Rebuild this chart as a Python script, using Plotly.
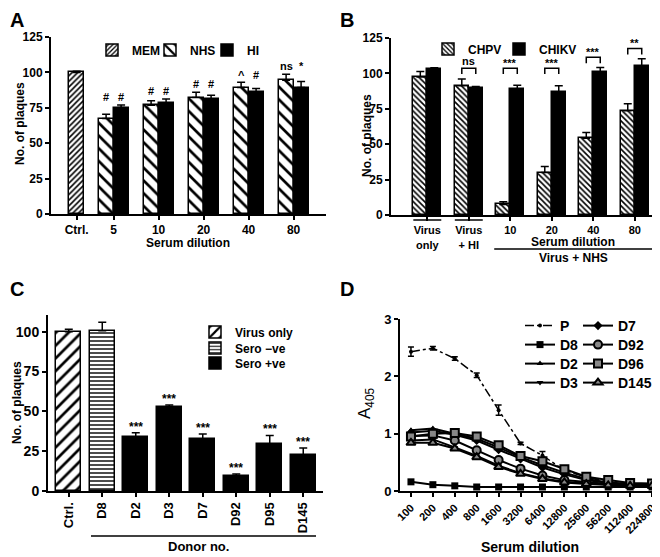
import plotly.graph_objects as go

# ---------------- data ----------------
# Panel A
a_categories = ["Ctrl.", "5", "10", "20", "40", "80"]
a_mem = [100.0]
a_mem_err = [0.8]
a_nhs = [67.4, 76.8, 82.2, 89.3, 94.5]
a_nhs_err = [3.1, 3.1, 3.8, 3.7, 4.2]
a_hi = [75.2, 78.5, 81.3, 86.0, 89.3]
a_hi_err = [1.8, 2.8, 2.6, 2.6, 4.2]
a_marks_nhs = ["#", "#", "#", "^", "ns"]
a_marks_hi = ["#", "#", "#", "#", "*"]

# Panel B
b_categories = ["Virus<br>only", "Virus<br>+ HI", "10", "20", "40", "80"]
b_chpv = [97.4, 91.3, 7.5, 30.0, 54.2, 73.6]
b_chpv_err = [4.0, 4.7, 1.9, 4.2, 4.1, 4.9]
b_chikv = [103.0, 89.6, 88.9, 87.0, 101.2, 105.4]
b_chikv_err = [1.0, 1.2, 2.8, 4.3, 3.0, 5.0]
b_sig = ["", "ns", "***", "***", "***", "**"]

# Panel C
c_categories = ["Ctrl.", "D8", "D2", "D3", "D7", "D92", "D95", "D145"]
c_values = [100.0, 100.6, 34.1, 52.9, 32.4, 9.4, 29.7, 22.8]
c_err = [1.5, 5.3, 2.5, 1.1, 3.4, 1.3, 5.2, 4.2]
c_groups = ["Virus only", "Sero −ve", "Sero +ve", "Sero +ve",
            "Sero +ve", "Sero +ve", "Sero +ve", "Sero +ve"]
c_sig = ["", "", "***", "***", "***", "***", "***", "***"]

# Panel D
d_dilutions = ["100", "200", "400", "800", "1600", "3200", "6400",
               "12800", "25600", "56200", "112400", "224800"]
d_P = [2.43, 2.49, 2.31, 2.02, 1.41, 0.83, 0.62, 0.36, 0.24, 0.16, 0.12, 0.10]
d_P_err = [0.08, 0.03, 0.03, 0.04, 0.09, 0.02, 0.07, 0.03, 0.02, 0.02, 0.01, 0.01]
d_D8 = [0.16, 0.11, 0.09, 0.07, 0.07, 0.07, 0.07, 0.07, 0.07, 0.07, 0.07, 0.07]
d_D2 = [1.06, 1.09, 1.00, 0.91, 0.76, 0.59, 0.45, 0.32, 0.21, 0.15, 0.12, 0.11]
d_D3 = [0.88, 0.90, 0.76, 0.61, 0.44, 0.31, 0.22, 0.16, 0.13, 0.11, 0.10, 0.09]
d_D7 = [1.02, 1.05, 0.98, 0.88, 0.72, 0.56, 0.41, 0.29, 0.19, 0.14, 0.12, 0.10]
d_D92 = [0.96, 0.97, 0.88, 0.71, 0.54, 0.39, 0.27, 0.19, 0.15, 0.12, 0.10, 0.10]
d_D96 = [0.95, 1.00, 1.01, 0.95, 0.80, 0.61, 0.52, 0.38, 0.25, 0.19, 0.14, 0.13]
d_D145 = [0.84, 0.84, 0.74, 0.59, 0.42, 0.30, 0.21, 0.15, 0.12, 0.10, 0.09, 0.09]

# ---------------- helpers ----------------
# the page places the figure 8 px lower than the window top
OFFY = 8
W, H = 660, 557 - OFFY
FONT = "Liberation Sans, Arial, sans-serif"


def px(x):
    return x / W


def py(y):
    return 1 - (y - OFFY) / H


def font(size, weight="bold"):
    return dict(family=FONT, size=size, color="black", weight=weight)


def axis_style(tsize=11, **kw):
    d = dict(showline=True, linecolor="black", linewidth=2, ticks="outside",
             ticklen=4, tickwidth=1.5, tickcolor="black", showgrid=False,
             zeroline=False, tickfont=font(tsize), fixedrange=True, automargin=False)
    d.update(kw)
    return d


def err(arr):
    return dict(type="data", array=arr, arrayminus=[0] * len(arr), symmetric=False,
                color="black", thickness=1.5, width=4, visible=True)


def note(x, y, text, size=12, weight="bold", **kw):
    d = dict(x=px(x), y=py(y), xref="paper", yref="paper", text=text, showarrow=False,
             xanchor="center", yanchor="middle", font=font(size, weight))
    d.update(kw)
    return d


OUT = dict(color="black", width=1.5)
fig = go.Figure()
annotations = []
shapes = []

# ---------------- Panel A ----------------
a_ctrl_x = [0.0]
a_grp_x = [0.82 + i for i in range(len(a_nhs))]
bw_a = 0.333
fig.add_bar(x=a_ctrl_x, y=a_mem, width=bw_a, error_y=err(a_mem_err), name="MEM",
            marker=dict(color="white", line=OUT,
                        pattern=dict(shape="/", size=4, solidity=0.4, fgcolor="black", bgcolor="white")),
            xaxis="x", yaxis="y", legend="legend", showlegend=True)
fig.add_bar(x=[g - bw_a / 2 for g in a_grp_x], y=a_nhs, width=bw_a, error_y=err(a_nhs_err), name="NHS",
            marker=dict(color="white", line=OUT,
                        pattern=dict(shape="\\", size=9, solidity=0.3, fgcolor="black", bgcolor="white")),
            xaxis="x", yaxis="y", legend="legend2", showlegend=True)
fig.add_bar(x=[g + bw_a / 2 for g in a_grp_x], y=a_hi, width=bw_a, error_y=err(a_hi_err), name="HI",
            marker=dict(color="black", line=OUT), xaxis="x", yaxis="y", legend="legend3", showlegend=True)
for i, g in enumerate(a_grp_x):
    top = max(a_nhs[i] + a_nhs_err[i], a_hi[i] + a_hi_err[i])
    for dx, m in ((-bw_a / 2, a_marks_nhs[i]), (bw_a / 2, a_marks_hi[i])):
        annotations.append(dict(x=g + dx, y=top + 5.5, xref="x", yref="y", text=m, showarrow=False,
                                xanchor="center", yanchor="middle", font=font(11)))

# ---------------- Panel B ----------------
b_x = list(range(len(b_chpv)))
bw_b = 0.337
fig.add_bar(x=[g - bw_b / 2 for g in b_x], y=b_chpv, width=bw_b, error_y=err(b_chpv_err), name="CHPV",
            marker=dict(color="white", line=OUT,
                        pattern=dict(shape="\\", size=4, solidity=0.4, fgcolor="black", bgcolor="white")),
            xaxis="x2", yaxis="y2", legend="legend4", showlegend=True)
fig.add_bar(x=[g + bw_b / 2 for g in b_x], y=b_chikv, width=bw_b, error_y=err(b_chikv_err), name="CHIKV",
            marker=dict(color="black", line=OUT), xaxis="x2", yaxis="y2", legend="legend5", showlegend=True)
for i, g in enumerate(b_x):
    if not b_sig[i]:
        continue
    top = max(b_chpv[i] + b_chpv_err[i], b_chikv[i] + b_chikv_err[i])
    leg = max(top + 3, 99.5)
    btop = leg + 4.2
    x0, x1 = g - bw_b / 2, g + bw_b / 2
    shapes.append(dict(type="path", xref="x2", yref="y2",
                       path=f"M{x0},{leg} L{x0},{btop} L{x1},{btop} L{x1},{leg}",
                       line=dict(color="black", width=1.5)))
    annotations.append(dict(x=g, y=btop, xref="x2", yref="y2", text=b_sig[i], showarrow=False,
                            xanchor="center", yanchor="bottom",
                            yshift=-3 if "*" in b_sig[i] else -1, font=font(11)))
# group lines under B axis
for i in (0, 1):
    shapes.append(dict(type="line", xref="x2", yref="paper", x0=i - bw_b, x1=i + bw_b,
                       y0=py(220), y1=py(220), line=dict(color="black", width=1.5)))
shapes.append(dict(type="line", xref="x2", yref="paper", x0=2 - bw_b - 0.05, x1=5 + bw_b + 0.2,
                   y0=py(249), y1=py(249), line=dict(color="black", width=1.5)))
annotations.append(note(565, 242, "Serum dilution", 12))
annotations.append(note(565, 258, "Virus + NHS", 12))

# ---------------- Panel C ----------------
c_x = list(range(len(c_values)))
bw_c = 0.75
c_styles = {
    "Virus only": dict(color="white", line=OUT,
                       pattern=dict(shape="/", size=9, solidity=0.3, fgcolor="black", bgcolor="white")),
    "Sero −ve": dict(color="white", line=OUT,
                     pattern=dict(shape="-", size=4, solidity=0.35, fgcolor="black", bgcolor="white")),
    "Sero +ve": dict(color="black", line=OUT),
}
for k, gname in enumerate(["Virus only", "Sero −ve", "Sero +ve"]):
    idx = [i for i, g in enumerate(c_groups) if g == gname]
    fig.add_bar(x=[c_x[i] for i in idx], y=[c_values[i] for i in idx], width=bw_c,
                error_y=err([c_err[i] for i in idx]), name=gname, marker=c_styles[gname],
                xaxis="x3", yaxis="y3", legend=f"legend{6 + k}", showlegend=True)
for i in c_x:
    if c_sig[i]:
        annotations.append(dict(x=i, y=c_values[i] + c_err[i], xref="x3", yref="y3", text=c_sig[i],
                                showarrow=False, xanchor="center", yanchor="bottom", yshift=-3,
                                font=font(12)))
shapes.append(dict(type="line", xref="paper", yref="paper", x0=px(83), x1=px(308),
                   y0=py(536), y1=py(536), line=dict(color="black", width=1.5)))
annotations.append(note(191, 546, "Donor no.", 13))

# ---------------- Panel D ----------------
d_series = [
    ("P", d_P, dict(symbol="circle", size=4, color="black"), "dashdot"),
    ("D8", d_D8, dict(symbol="square", size=7, color="black"), "solid"),
    ("D2", d_D2, dict(symbol="triangle-up", size=6, color="black"), "solid"),
    ("D3", d_D3, dict(symbol="triangle-down", size=6, color="black"), "solid"),
    ("D7", d_D7, dict(symbol="diamond", size=7, color="black"), "solid"),
    ("D92", d_D92, dict(symbol="circle", size=8, color="#888888", line=dict(color="black", width=2)), "solid"),
    ("D96", d_D96, dict(symbol="square", size=8, color="#888888", line=dict(color="black", width=2)), "solid"),
    ("D145", d_D145, dict(symbol="triangle-up", size=8, color="#888888", line=dict(color="black", width=2)), "solid"),
]
for k, (name, vals, mk, dash) in enumerate(d_series):
    kw = {}
    if name == "P":
        kw["error_y"] = dict(type="data", array=d_P_err, color="black", thickness=1.5, width=3)
    fig.add_scatter(x=d_dilutions, y=vals, mode="lines+markers", name=name,
                    line=dict(color="black", width=2 if name != "P" else 1.5, dash=dash),
                    marker=mk, xaxis="x4", yaxis="y4", legend=f"legend{9 + k}", showlegend=True, **kw)

# ---------------- legends ----------------
legend_defs = {}


def add_legend(key, x, y, size=12):
    legend_defs[key] = dict(x=px(x), y=py(y), xanchor="left", yanchor="middle",
                            bgcolor="rgba(0,0,0,0)", borderwidth=0, font=font(size),
                            itemclick=False, itemdoubleclick=False, visible=True)


# A: swatches near 100, 158, 213 (y 51)
add_legend("legend", 100 - 16, 50)
add_legend("legend2", 158 - 16, 50)
add_legend("legend3", 215 - 16, 50)
# B
add_legend("legend4", 436 - 16, 49)
add_legend("legend5", 507 - 16, 49)
# C
for k, yy in enumerate((332, 348, 363)):
    add_legend(f"legend{6 + k}", 203 - 16, yy)
# D
rows = (326, 345, 364, 383)
for k in range(4):
    add_legend(f"legend{9 + k}", 512, rows[k], 14)
    add_legend(f"legend{13 + k}", 570, rows[k], 14)

# ---------------- titles / panel letters ----------------
annotations.append(note(9, OFFY, "A", 20, yanchor="top", borderpad=0))
annotations.append(note(339, OFFY, "B", 20, yanchor="top", borderpad=0))
annotations.append(note(9, 289, "C", 20))
annotations.append(note(339, 289, "D", 20))
annotations += [
    note(12, 124, "No. of plaques", 12, textangle=-90),
    note(180, 243, "Serum dilution", 12),
    note(359, 136, "No. of plaques", 12, textangle=-90),
    note(9, 403, "No. of plaques", 12, textangle=-90),
    note(358, 403, "A<sub>405</sub>", 17, "normal", textangle=-90),
    note(522, 547, "Serum dilution", 14),
]

fig.update_layout(
    template="none",
    width=W, height=H, margin=dict(l=0, r=0, t=0, b=0, autoexpand=False),
    paper_bgcolor="white", plot_bgcolor="white", font=font(12),
    bargap=0, barmode="overlay", showlegend=True,
    xaxis=axis_style(12, domain=[px(43), px(318)], range=[-0.571, 5.54], anchor="y",
                     tickvals=a_ctrl_x + a_grp_x, ticktext=a_categories),
    yaxis=axis_style(12, domain=[py(214), py(37)], range=[0, 125], anchor="x",
                     tickvals=[0, 25, 50, 75, 100, 125]),
    xaxis2=axis_style(11, domain=[px(383), px(645)], range=[-0.875, 5.44], anchor="y2",
                      tickvals=b_x, ticktext=b_categories),
    yaxis2=axis_style(12, domain=[py(215), py(38)], range=[0, 125], anchor="x2",
                      tickvals=[0, 25, 50, 75, 100, 125]),
    xaxis3=axis_style(13, domain=[px(40), px(315)], range=[-0.62, 7.59], anchor="y3",
                      tickvals=c_x, ticktext=c_categories, tickangle=-90),
    yaxis3=axis_style(14, domain=[py(491), py(315)], range=[0, 110.5], anchor="x3",
                      tickvals=[0, 25, 50, 75, 100]),
    xaxis4=axis_style(11, domain=[px(392), px(655)], range=[-0.5, 11.5], anchor="y4",
                      type="category", tickangle=-45),
    yaxis4=axis_style(13, domain=[py(491), py(319)], range=[0, 3], anchor="x4",
                      tickvals=[0, 1, 2, 3]),
    annotations=annotations, shapes=shapes,
)
fig.update_layout(**legend_defs)

fig.write_html("out.html")
